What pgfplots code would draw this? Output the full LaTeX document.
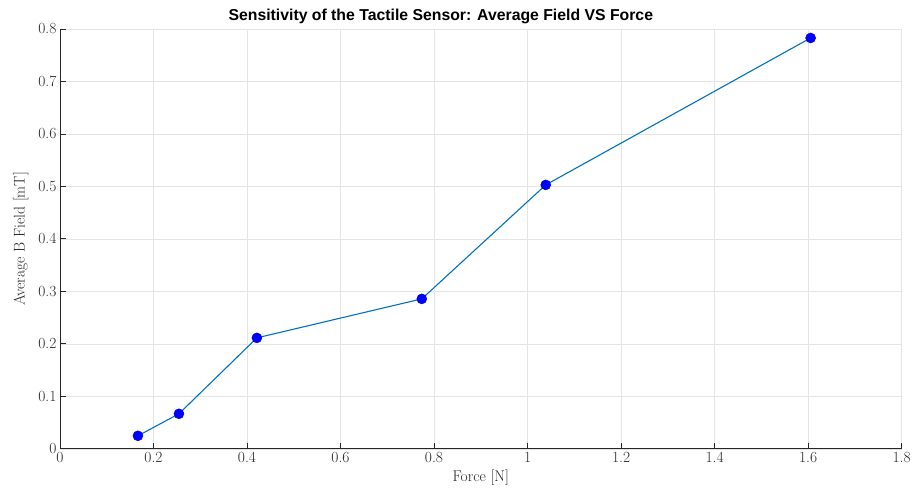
\documentclass[border=0pt]{standalone}
\usepackage{fontspec}
\usepackage{pgfplots}
\pgfplotsset{compat=1.18}
\newfontfamily\titlefont{Liberation Sans}
\definecolor{mlblue}{RGB}{0,114,189}
\definecolor{axgray}{RGB}{38,38,38}
\definecolor{gridgray}{RGB}{228,228,228}
\begin{document}
\begin{tikzpicture}
\begin{axis}[
  name=ax,
  scale only axis,
  width=842pt, height=420pt,
  xmin=0, xmax=1.8, ymin=0, ymax=0.8,
  xtick={0,0.2,...,1.8}, ytick={0,0.1,...,0.8},
  xticklabels={0,0.2,0.4,0.6,0.8,1,1.2,1.4,1.6,1.8},
  yticklabels={0,0.1,0.2,0.3,0.4,0.5,0.6,0.7,0.8},
  axis x line*=bottom, axis y line*=left,
  axis line style={axgray, line width=0.8pt, -},
  tick align=inside,
  major tick length=6pt,
  tick style={axgray, line width=0.8pt},
  grid=major,
  major grid style={gridgray, line width=0.6pt},
  ticklabel style={font=\fontsize{15.5}{18}\selectfont, text=axgray},
  label style={font=\fontsize{15.5}{18}\selectfont, text=axgray},
  xlabel={Force [N]},
  ylabel={Average B Field [mT]},
  ylabel style={yshift=3pt},
  title={\titlefont\bfseries Sensitivity of the Tactile Sensor: Average Field VS Force},
  title style={font=\fontsize{15.8}{18}\selectfont, yshift=-4pt, xshift=-40pt},
  clip=false,
]
\addplot[mlblue, line width=1.1pt, mark=*, mark size=5pt,
  mark options={fill=blue, draw=blue!90!black, line width=0.5pt}]
  coordinates {
  (0.1667,0.0248)
  (0.2544,0.0667)
  (0.4211,0.2114)
  (0.7738,0.2857)
  (1.0389,0.5029)
  (1.6054,0.7829)
};
\end{axis}
\path ([xshift=-60pt,yshift=-48pt]ax.south west) rectangle ([xshift=12pt,yshift=29pt]ax.north east);
\end{tikzpicture}
\end{document}
